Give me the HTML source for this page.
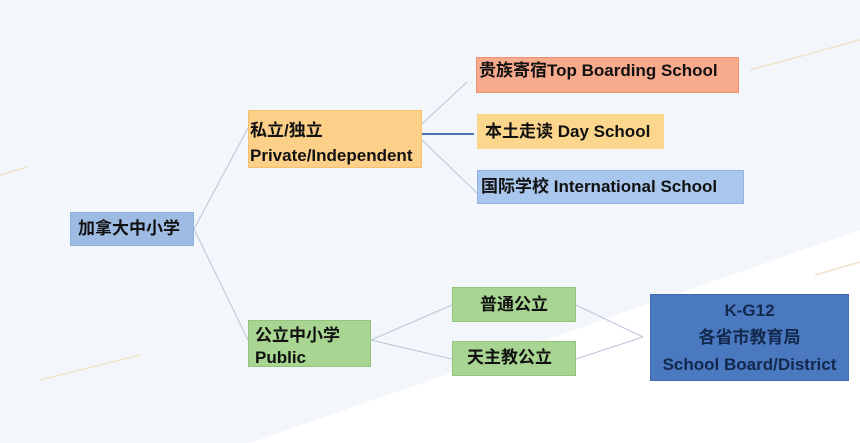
<!DOCTYPE html>
<html><head><meta charset="utf-8"><style>
body{margin:0;width:860px;height:443px;overflow:hidden;background:#f3f6fa;position:relative;font-family:"Liberation Sans","Noto Sans CJK SC",sans-serif;font-weight:bold;color:#111;}
.b{position:absolute;box-sizing:border-box;font-size:17px;line-height:20px;white-space:nowrap;}
</style></head><body>
<svg width="860" height="443" style="position:absolute;left:0;top:0">
<polygon points="250,443 860,230 860,443" fill="#ffffff"/>
<g stroke="#efe3c8" stroke-width="1.5">
<line x1="0" y1="175" x2="27" y2="167"/>
<line x1="40" y1="380" x2="140" y2="355"/>
<line x1="750" y1="70" x2="860" y2="40"/>
<line x1="815" y1="275" x2="860" y2="262"/>
</g>
<g stroke="#b9c6d8" stroke-width="1" fill="none">
<line x1="194" y1="229" x2="248" y2="128"/>
<line x1="194" y1="229" x2="248" y2="340"/>
<line x1="422" y1="124" x2="467" y2="82"/>
<line x1="422" y1="140" x2="477" y2="193"/>
<line x1="371" y1="340" x2="452" y2="305"/>
<line x1="371" y1="340" x2="452" y2="359"/>
<line x1="576" y1="305" x2="643" y2="337"/>
<line x1="576" y1="359" x2="643" y2="337"/>
</g>
<line x1="415" y1="134" x2="474" y2="134" stroke="#4a72b0" stroke-width="2"/>
</svg>
<div class="b" style="left:70px;top:212px;width:124px;height:34px;background:#9dbbe3;border:1px solid #8fb0da;padding:6px 0 0 7px;">加拿大中小学</div>
<div class="b" style="left:248px;top:110px;width:174px;height:58px;background:#fdd08a;border:1px solid #f5c070;padding:7px 0 0 1px;line-height:25px;">私立/独立<br>Private/Independent</div>
<div class="b" style="left:248px;top:320px;width:123px;height:47px;background:#a8d592;border:1px solid #93c47d;padding:4px 0 0 6px;line-height:22px;">公立中小学<br>Public</div>
<div class="b" style="left:476px;top:57px;width:263px;height:36px;background:#f7aa8c;border:1px solid #f09070;padding:3px 0 0 2px;">贵族寄宿Top Boarding School</div>
<div class="b" style="left:477px;top:114px;width:187px;height:35px;background:#fdd68d;padding:8px 0 0 8px;">本土走读 Day School</div>
<div class="b" style="left:477px;top:170px;width:267px;height:34px;background:#a9c6ec;border:1px solid #90b2e0;padding:6px 0 0 3px;">国际学校 International School</div>
<div class="b" style="left:452px;top:287px;width:124px;height:35px;background:#a8d592;border:1px solid #93c47d;padding:7px 0 0 27px;">普通公立</div>
<div class="b" style="left:452px;top:341px;width:124px;height:35px;background:#a8d592;border:1px solid #93c47d;padding:6px 0 0 14px;">天主教公立</div>
<div class="b" style="left:650px;top:294px;width:199px;height:87px;background:#4a79bf;border:1px solid #3f6cb0;color:#13284d;text-align:center;line-height:27px;padding-top:2px;">K-G12<br>各省市教育局<br>School Board/District</div>
</body></html>
